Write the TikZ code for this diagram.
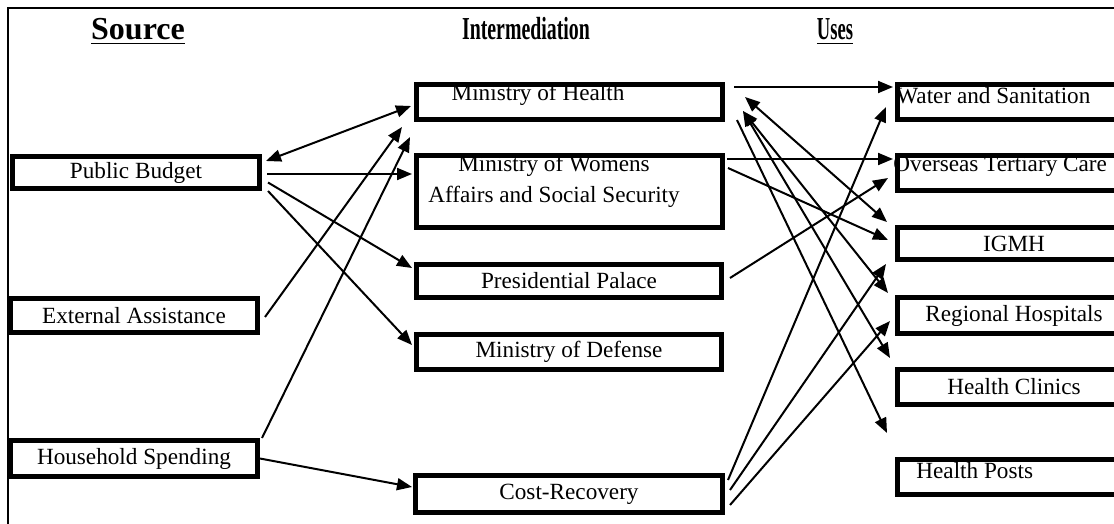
\documentclass[tikz,border=0pt]{standalone}
\usepackage{fontspec}
\usepackage{graphicx}
\setmainfont{Liberation Serif}
\usetikzlibrary{arrows.meta,calc}
\begin{document}
\begin{tikzpicture}[x=0.5pt,y=-0.5pt,
  box/.style={draw, line width=2.5pt, inner sep=0pt, font=\fontsize{11.6}{14}\selectfont},
  lbl/.style={inner sep=0pt, font=\fontsize{11.6}{14}\selectfont},
  head/.style={inner sep=0pt, font=\fontsize{16}{19}\selectfont\bfseries, anchor=base},
  tip/.tip={Triangle[length=7.5pt,width=6pt]},
  conn/.style={line width=1pt, -tip},
  bconn/.style={line width=1pt, tip-tip}]
\clip (0,0) rectangle (1114,524);
\draw[line width=1pt] (8,540) -- (8,8) -- (1130,8);
% headers
\node[head] (hsrc) at (138,40) {\underline{Source}};
\node[head] (hint) at (526,40) {\scalebox{0.62}[1]{Intermediation}};
\node[head] (huse) at (835,40) {\scalebox{0.58}[1]{\underline{Uses}}};
% sources
\node[box, minimum width=123.5pt, minimum height=16pt] (pb) at (136,172.5) {Public Budget};
\node[box, minimum width=123.5pt, minimum height=17pt] (ea) at (134,315.5) {External Assistance};
\node[box, minimum width=123.5pt, minimum height=18pt] (hs) at (134,458.5) {Household Spending};
% intermediation
\node[box, minimum width=153pt, minimum height=17.5pt] (moh) at (569.5,102) {};
\node[lbl] (mohT) at (538,95) {Ministry of Health};
\node[box, minimum width=153pt, minimum height=36pt] (mow) at (569.5,191.5) {};
\node[lbl, align=center] (mowT) at (554,181) {Ministry of Womens\\[1.5pt]Affairs and Social Security};
\node[box, minimum width=152.5pt, minimum height=16.5pt] (pp) at (569,281) {Presidential Palace};
\node[box, minimum width=152.5pt, minimum height=17.5pt] (md) at (569,352) {Ministry of Defense};
\node[box, minimum width=153.5pt, minimum height=18.5pt] (cr) at (569,494) {Cost-Recovery};
% uses
\node[box, minimum width=116.5pt, minimum height=17.5pt] (ws) at (1014,102) {};
\node[lbl, anchor=west] (wsT) at (896,96) {Water and Sanitation};
\node[box, minimum width=116.5pt, minimum height=17.5pt] (otc) at (1014,173) {};
\node[lbl, anchor=west] (otcT) at (893,166) {Overseas Tertiary Care};
\node[box, minimum width=116.5pt, minimum height=16pt] (igmh) at (1014,243.5) {IGMH};
\node[box, minimum width=116.5pt, minimum height=18pt] (rh) at (1014,315.5) {Regional Hospitals};
\node[box, minimum width=116.5pt, minimum height=17.5pt] (hc) at (1014,387) {Health Clinics};
\node[box, minimum width=116.5pt, minimum height=17.5pt] (hp) at (1014,477) {};
\node[lbl, anchor=west] (hpT) at (916,471) {Health Posts};
% source -> intermediation
\draw[bconn] ($(pb.north east)+(4,7)$) -- ($(moh.west)+(-3,4)$);
\draw[conn] ($(pb.east)+(5,1.5)$) -- ($(mow.north west)+(-2,21)$);
\draw[conn] ($(pb.east)+(6,10)$) -- ($(pp.north west)+(-2,6)$);
\draw[conn] ($(pb.south east)+(6,0)$) -- ($(md.north west)+(-2,13)$);
\draw[conn] ($(ea.east)+(5,1.5)$) -- ($(moh.south west)+(-12,5)$);
\draw[conn] ($(hs.north east)+(2,0)$) -- ($(moh.south west)+(-4,15)$);
\draw[conn] (hs.east) -- ($(cr.west)+(-1,-7)$);
% intermediation -> uses
\draw[conn] ($(moh.north east)+(9,5)$) -- ($(ws.north west)+(-2,5)$);
\draw[conn] ($(mow.north east)+(2,6)$) -- ($(otc.north west)+(-2,6)$);
\draw[conn] ($(mow.north east)+(3,15)$) -- ($(igmh.west)+(-7,-3.5)$);
\draw[conn] ($(pp.east)+(6,-3)$) -- ($(otc.south west)+(-7,-15)$);
\draw[conn] ($(cr.east)+(3,-14)$) -- ($(ws.south west)+(-9,-15)$);
\draw[conn] ($(cr.east)+(5,-4)$) -- ($(igmh.south west)+(-9,2)$);
\draw[conn] ($(cr.east)+(5,11)$) -- ($(rh.west)+(-5,5.5)$);
\draw[bconn] ($(moh.east)+(20,-5)$) -- ($(igmh.north west)+(-8,-3)$);
\draw[bconn] ($(moh.east)+(18,9)$) -- ($(rh.north west)+(-7,-2)$);
\draw[bconn] ($(moh.east)+(18,9)$) -- ($(hc.north west)+(-5,-9)$);
\draw[conn] ($(moh.south east)+(12,-2)$) -- ($(hp.north west)+(-8,-24)$);
\end{tikzpicture}
\end{document}
